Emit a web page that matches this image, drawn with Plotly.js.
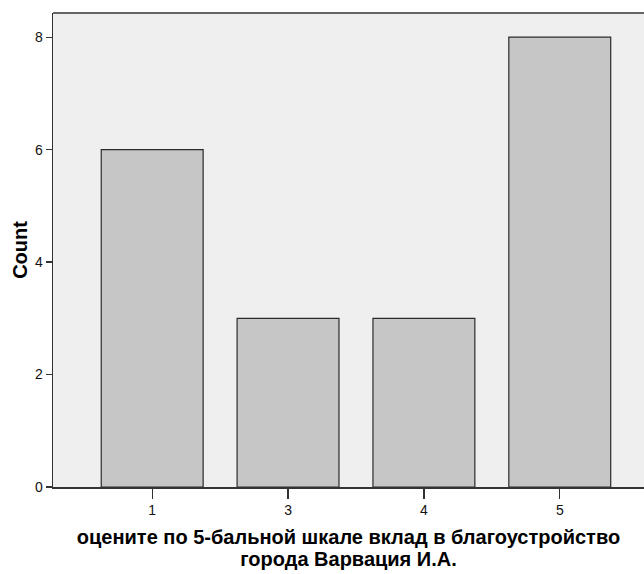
<!DOCTYPE html>
<html>
<head>
<meta charset="utf-8">
<script src="https://cdn.plot.ly/plotly-3.0.1.min.js"></script>
<style>html,body{margin:0;padding:0;background:#fff;}</style>
</head>
<body>
<div id="chart" style="width:644px;height:574px;"></div>
<script>
const categories = ["1", "3", "4", "5"];
const counts = [6, 3, 3, 8];
const yTicks = [0, 2, 4, 6, 8];
const xTitle = "оцените по 5-бальной шкале вклад в благоустройство<br>города Варвация И.А.";
const yTitle = "Count";

const trace = {
  type: "bar",
  x: categories,
  y: counts,
  width: 0.75,
  marker: {color: "#c6c6c6", line: {color: "#2b2b2b", width: 1.2}},
  hoverinfo: "skip"
};

const FONT = "Liberation Sans, Arial, sans-serif";
const layout = {
  width: 644, height: 574,
  margin: {l: 53, r: 0, t: 13, b: 87, pad: 0},
  paper_bgcolor: "#ffffff",
  plot_bgcolor: "#efefef",
  showlegend: false,
  font: {family: FONT, color: "#000"},
  xaxis: {
    type: "category",
    range: [-0.73, 3.62],
    showgrid: false, zeroline: false,
    showline: true, linecolor: "#333", linewidth: 1.5,
    ticks: "outside", ticklen: 10, tickwidth: 1.3, tickcolor: "#333",
    tickfont: {size: 14, color: "#111", family: FONT},
    title: {text: xTitle, font: {size: 20, color: "#000", family: FONT, weight: "bold"}, standoff: 16}
  },
  yaxis: {
    range: [0, 8.43],
    tickvals: yTicks,
    showgrid: false, zeroline: false,
    showline: true, linecolor: "#333", linewidth: 1.5,
    ticks: "outside", ticklen: 6, tickwidth: 1.3, tickcolor: "#333",
    tickfont: {size: 14, color: "#111", family: FONT},
    title: {text: yTitle, font: {size: 20, color: "#000", family: FONT, weight: "bold"}, standoff: 2}
  },
  shapes: [
    {type: "line", xref: "paper", yref: "paper", x0: 0, x1: 1, y0: 1, y1: 1, line: {color: "#333", width: 1.5}}
  ]
};

Plotly.newPlot("chart", [trace], layout, {displayModeBar: false, staticPlot: true}).then(function(gd) {
  // slightly tighter line spacing for the two-line x title, as in the reference
  const lines = gd.querySelectorAll(".g-xtitle text tspan.line");
  for (let i = 1; i < lines.length; i++) lines[i].setAttribute("dy", "1.1em");
});
</script>
</body>
</html>
